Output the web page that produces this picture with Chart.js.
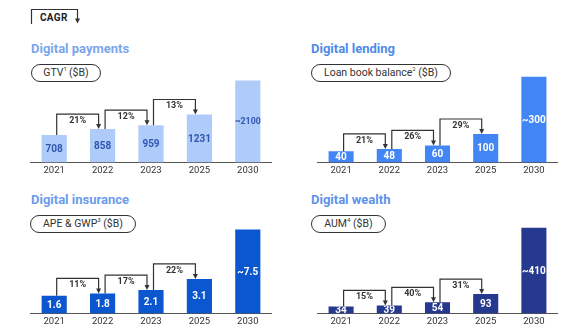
<!DOCTYPE html>
<html>
<head>
<meta charset="utf-8">
<script src="https://cdn.jsdelivr.net/npm/chart.js@4.4.1/dist/chart.umd.min.js"></script>
<style>
  html, body { margin: 0; padding: 0; background: #fff; }
  body { width: 588px; height: 324px; overflow: hidden; position: relative; font-family: Roboto, "Noto Sans", sans-serif; }
  .title { position: absolute; font-size: 13px; font-weight: 700; line-height: 16px; white-space: nowrap; }
  .pill { position: absolute; height: 16px; border: 1.3px solid #333; border-radius: 10px; font-size: 10.5px; line-height: 16px; color: #333; text-align: center; white-space: nowrap; }
  .pill sup { font-size: 6px; vertical-align: 5px; line-height: 0; }
  canvas { position: absolute; }
  #legend { position: absolute; left: 30px; top: 8px; }
  #legendText { position: absolute; left: 40px; top: 12px; font-size: 10px; font-weight: 700; color: #222; line-height: 12px; letter-spacing: 0.3px; }
</style>
</head>
<body>

<svg id="legend" width="54" height="18">
  <path d="M1.5 16 V1.5 H47.5 V11" fill="none" stroke="#333" stroke-width="1.2"/>
  <path d="M45 10.5 H50 L47.5 15.5 Z" fill="#333"/>
</svg>
<div id="legendText">CAGR</div>

<div class="title" style="left:31px; top:41px; color:#7ba6ee;">Digital payments</div>
<div class="pill" style="left:31px; top:64px; width:68px;">GTV<sup>1</sup>&thinsp;($B)</div>
<canvas id="payments" width="242" height="108" style="left:30px; top:70px;"></canvas>

<div class="title" style="left:311px; top:41px; color:#4f8ae8;">Digital lending</div>
<div class="pill" style="left:311px; top:64px; width:138px;">Loan book balance<sup>2</sup> ($B)</div>
<canvas id="lending" width="241" height="108" style="left:317px; top:70px;"></canvas>

<div class="title" style="left:31px; top:192px; color:#6c9cec;">Digital insurance</div>
<div class="pill" style="left:30px; top:215px; width:104px;">APE &amp; GWP<sup>3</sup> ($B)</div>
<canvas id="insurance" width="242" height="108" style="left:30px; top:221px;"></canvas>

<div class="title" style="left:311px; top:192px; color:#5e92ea;">Digital wealth</div>
<div class="pill" style="left:311px; top:215px; width:73px;">AUM<sup>4</sup> ($B)</div>
<canvas id="wealth" width="241" height="108" style="left:317px; top:221px;"></canvas>

<script>
const years = ['2021', '2022', '2023', '2025', '2030'];

const paymentsGtv = [708, 858, 959, 1231, 2100];
const paymentsCagr = ['21%', '12%', '13%'];

const lendingBook = [40, 48, 60, 100, 300];
const lendingCagr = ['21%', '26%', '29%'];

const insuranceApe = [1.6, 1.8, 2.1, 3.1, 7.5];
const insuranceCagr = ['11%', '17%', '22%'];

const wealthAum = [34, 39, 54, 93, 410];
const wealthCagr = ['15%', '40%', '31%'];

// value labels inside the bars + CAGR brackets between consecutive years
function barAnnotations(cagr, textColor) {
  return {
    id: 'barAnnotations',
    afterDatasetsDraw(chart) {
      const ctx = chart.ctx;
      const bars = chart.getDatasetMeta(0).data;
      const values = chart.data.datasets[0].data;

      bars.forEach((bar, i) => {
        const p = bar.getProps(['x', 'y', 'base', 'width']);
        const txt = (i === values.length - 1 ? '~' : '') + values[i];
        ctx.save();
        // only the part of the label that sits on the bar shows
        ctx.beginPath();
        ctx.rect(p.x - p.width, p.y, p.width * 2, p.base - p.y);
        ctx.clip();
        ctx.fillStyle = textColor;
        let size = 10;
        ctx.font = '700 ' + size + 'px Roboto';
        while (ctx.measureText(txt).width > p.width + 1 && size > 8.5) {
          size -= 0.25;
          ctx.font = '700 ' + size + 'px Roboto';
        }
        ctx.textAlign = 'center';
        ctx.textBaseline = 'middle';
        ctx.fillText(txt, p.x, (p.y + p.base) / 2 + 0.5);
        ctx.restore();
      });

      ctx.save();
      ctx.strokeStyle = '#333';
      ctx.fillStyle = '#333';
      ctx.lineWidth = 1.2;
      cagr.forEach((label, i) => {
        const a = bars[i].getProps(['x', 'y']);
        const b = bars[i + 1].getProps(['x', 'y']);
        const x1 = a.x + 2.5;
        const x2 = b.x - 4;
        const top = b.y - 15;
        ctx.beginPath();
        ctx.moveTo(x1, a.y);
        ctx.lineTo(x1, top);
        ctx.lineTo(x2, top);
        ctx.lineTo(x2, b.y - 4);
        ctx.stroke();
        ctx.beginPath();
        ctx.moveTo(x2 - 2.5, b.y - 5);
        ctx.lineTo(x2 + 2.5, b.y - 5);
        ctx.lineTo(x2, b.y);
        ctx.closePath();
        ctx.fill();
        ctx.font = '700 9px Roboto';
        ctx.textAlign = 'center';
        ctx.textBaseline = 'middle';
        ctx.fillText(label, (x1 + x2) / 2, top + 6.5);
      });
      ctx.restore();
    }
  };
}

function makeChart(id, values, cagr, color, textColor, yMax) {
  return new Chart(document.getElementById(id), {
    type: 'bar',
    data: {
      labels: years,
      datasets: [{
        data: values,
        backgroundColor: color,
        barPercentage: 0.52,
        categoryPercentage: 1
      }]
    },
    options: {
      responsive: false,
      animation: false,
      layout: { padding: 0 },
      plugins: {
        legend: { display: false },
        tooltip: { enabled: false }
      },
      scales: {
        x: {
          z: 1,
          grid: { display: false, drawTicks: false },
          border: { display: true, color: '#555', width: 1 },
          ticks: { color: '#333', font: { family: 'Roboto', size: 9.5 }, padding: 2 }
        },
        y: { display: false, min: 0, max: yMax }
      }
    },
    plugins: [barAnnotations(cagr, textColor)]
  });
}

makeChart('payments', paymentsGtv, paymentsCagr, '#aecbfa', '#2f56b0', 2370);
makeChart('lending', lendingBook, lendingCagr, '#4285f4', '#ffffff', 324);
makeChart('insurance', insuranceApe, insuranceCagr, '#0b57d0', '#ffffff', 8.27);
makeChart('wealth', wealthAum, wealthCagr, '#25398f', '#ffffff', 442);
</script>
</body>
</html>
